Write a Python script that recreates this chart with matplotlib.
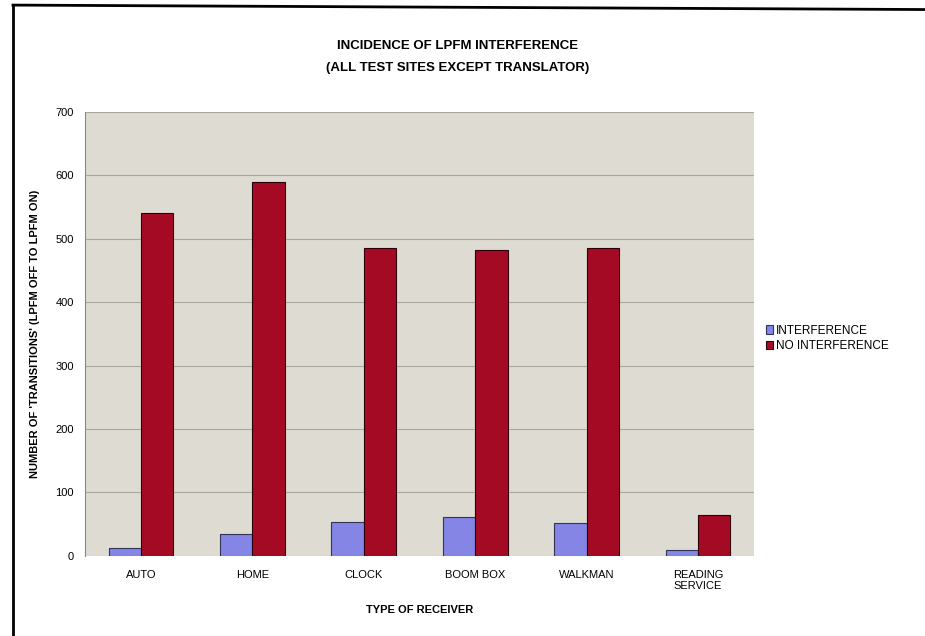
import matplotlib.pyplot as plt
import numpy as np
from matplotlib.lines import Line2D

categories = ["AUTO", "HOME", "CLOCK", "BOOM BOX", "WALKMAN", "READING\nSERVICE"]
interference = [12, 35, 54, 62, 52, 10]
no_interference = [541, 590, 485, 482, 485, 65]

plt.rcParams['font.family'] = ['Liberation Sans', 'DejaVu Sans']

fig = plt.figure(figsize=(9.25, 6.36), dpi=100)
ax = fig.add_axes([0.092, 0.126, 0.723, 0.698])

x = np.arange(len(categories))
w = 0.29
ax.bar(x - w / 2, interference, w, color="#8585e6", edgecolor="#333355", linewidth=0.8,
       label="INTERFERENCE")
ax.bar(x + w / 2, no_interference, w, color="#a50a25", edgecolor="#2a0008", linewidth=0.8,
       label="NO INTERFERENCE")

ax.set_facecolor("#dddbd2")
ax.set_xlim(-0.5, len(categories) - 0.5)
ax.set_ylim(0, 700)
ax.set_yticks(range(0, 701, 100))
ax.set_xticks(x)
ax.set_xticklabels(categories, fontsize=8)
ax.tick_params(axis="y", labelsize=8, length=0, pad=8)
ax.tick_params(axis="x", length=0, pad=10)
ax.grid(axis="y", color="#aaa89c", linewidth=0.8)
ax.set_axisbelow(True)
for s in ax.spines.values():
    s.set_visible(False)
ax.spines["left"].set_visible(True)
ax.spines["left"].set_color("#888880")

ax.set_xlabel("TYPE OF RECEIVER", fontsize=8, fontweight="bold", labelpad=10)
ax.set_ylabel("NUMBER OF 'TRANSITIONS' (LPFM OFF TO LPFM ON)", fontsize=8,
              fontweight="bold")
ax.yaxis.set_label_coords(-0.067, 0.5)

fig.text(0.495, 0.927, "INCIDENCE OF LPFM INTERFERENCE", ha="center", va="center",
         fontsize=9.5, fontweight="bold")
fig.text(0.495, 0.893, "(ALL TEST SITES EXCEPT TRANSLATOR)", ha="center", va="center",
         fontsize=9.5, fontweight="bold")

ax.legend(loc="center left", bbox_to_anchor=(1.0, 0.49), frameon=False, fontsize=8.5,
          handlelength=0.6, handleheight=0.7, handletextpad=0.3, labelspacing=0.3,
          borderaxespad=0.6)

# page border
fig.add_artist(Line2D([0.014, 1.0], [0.992, 0.985], color="black", linewidth=2))
fig.add_artist(Line2D([0.014, 0.014], [0.0, 0.992], color="black", linewidth=2))

fig.savefig("out.png", dpi=100)
